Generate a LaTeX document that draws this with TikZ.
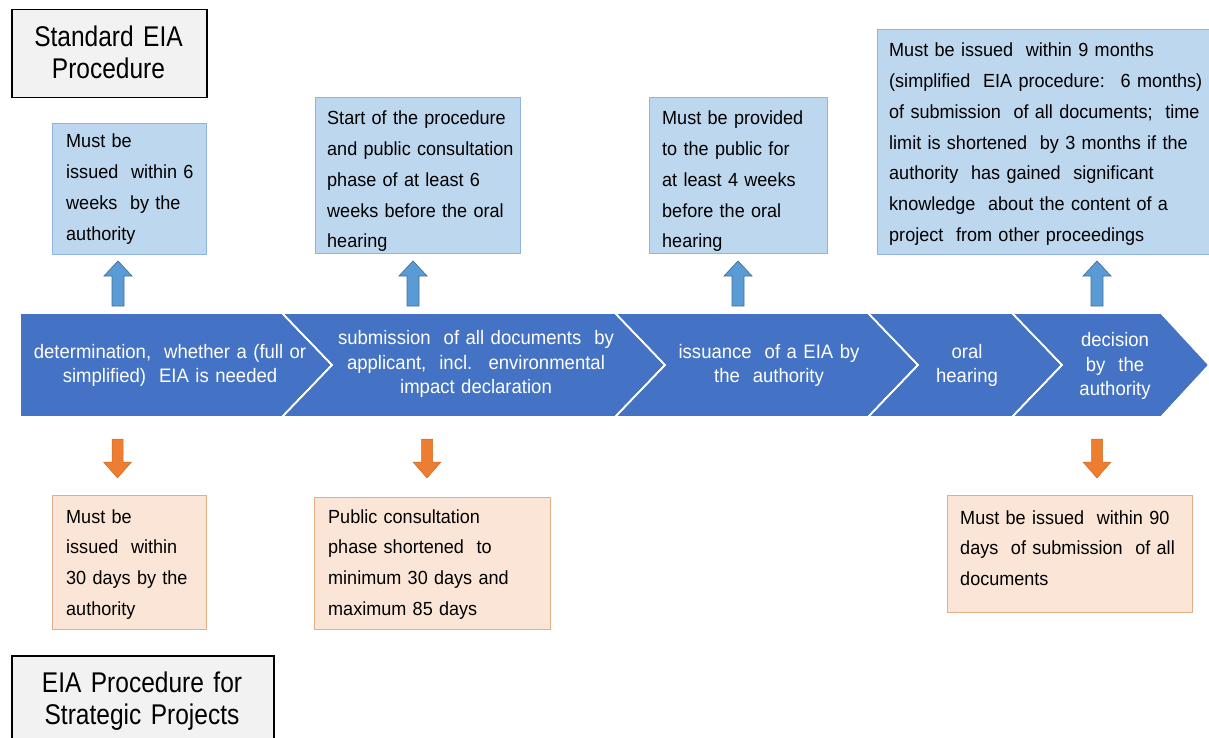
\documentclass[tikz,border=0pt]{standalone}
\usepackage{fontspec}
\setmainfont{Liberation Sans}
\newfontfamily\titlefont[FakeStretch=0.86]{Liberation Sans}
\newfontfamily\bodyfont[FakeStretch=0.95]{Liberation Sans}
\definecolor{bandblue}{HTML}{4472C4}
\definecolor{lblue}{HTML}{BDD7EE}
\definecolor{lbluedraw}{HTML}{8FB4DE}
\definecolor{lorange}{HTML}{FBE5D6}
\definecolor{lorangedraw}{HTML}{E3AE88}
\definecolor{arrblue}{HTML}{5B9BD5}
\definecolor{arrbluedraw}{HTML}{41719C}
\definecolor{arrorange}{HTML}{ED7D31}
\definecolor{arrorangedraw}{HTML}{D06A25}
\definecolor{titlegray}{HTML}{F2F2F2}
\newcommand\upArr[1]{\draw[uparrow] (#1-6,306) -- (#1-6,276) -- (#1-14,276) -- (#1,261) -- (#1+14,276) -- (#1+6,276) -- (#1+6,306) -- cycle;}
\newcommand\downArr[1]{\draw[downarrow] (#1-5.5,439) -- (#1-5.5,462) -- (#1-14,462) -- (#1,478) -- (#1+14,462) -- (#1+5.5,462) -- (#1+5.5,439) -- cycle;}
\begin{document}
\begin{tikzpicture}[x=1pt,y=-1pt,
  titlebox/.style={draw=black, line width=1.5pt, fill=titlegray, anchor=north west, inner sep=0pt},
  bluebox/.style={draw=lbluedraw, line width=0.8pt, fill=lblue, anchor=north west, inner sep=0pt},
  orangebox/.style={draw=lorangedraw, line width=0.8pt, fill=lorange, anchor=north west, inner sep=0pt},
  bodytext/.style={anchor=base west, align=left, text width=330pt, inner sep=0pt, font=\bodyfont\fontsize{19}{30.7}\selectfont},
  bandtext/.style={anchor=base, align=center, text width=300pt, inner sep=0pt, text=white, font=\bodyfont\fontsize{19.5}{24.5}\selectfont},
  titletext/.style={anchor=base, align=center, text width=260pt, inner sep=0pt, font=\titlefont\fontsize{28.5}{32.3}\selectfont},
  chev/.style={fill=bandblue, draw=white, line width=1.6pt, line join=miter},
  uparrow/.style={fill=arrblue, draw=arrbluedraw, line width=0.7pt},
  downarrow/.style={fill=arrorange, draw=arrorangedraw, line width=0.5pt},
]
\useasboundingbox (0,0) rectangle (1209,738);
\fill[white] (0,0) rectangle (1209,738);
\clip (0,0) rectangle (1209,738);

% title boxes
\node[titlebox, minimum width=195, minimum height=88] (t1) at (11,9) {};
\node[titletext] (t1t) at (108.5,46.7) {Standard EIA\\Procedure};
\node[titlebox, minimum width=262, minimum height=100] (t2) at (11,655) {};
\node[titletext] (t2t) at (142,692.5) {EIA Procedure for\\Strategic Projects};

% band
\fill[chev] (20,313) -- (282,313) -- (332,365) -- (282,417) -- (20,417) -- cycle;
\fill[chev] (282,313) -- (615,313) -- (665,365) -- (615,417) -- (282,417) -- (332,365) -- cycle;
\fill[chev] (615,313) -- (868,313) -- (918,365) -- (868,417) -- (615,417) -- (665,365) -- cycle;
\fill[chev] (868,313) -- (1012,313) -- (1062,365) -- (1012,417) -- (868,417) -- (918,365) -- cycle;
\fill[chev] (1012,313) -- (1161,313) -- (1209,365) -- (1161,417) -- (1012,417) -- (1062,365) -- cycle;
\draw[chev, fill=none] (282,313) -- (332,365) -- (282,417);
\draw[chev, fill=none] (615,313) -- (665,365) -- (615,417);
\draw[chev, fill=none] (868,313) -- (918,365) -- (868,417);
\draw[chev, fill=none] (1012,313) -- (1062,365) -- (1012,417);

\node[bandtext] (s1) at (170,358) {determination, \ whether a (full or\\simplified) \ EIA is needed};
\node[bandtext] (s2) at (476,344.5) {submission \ of all documents \ by\\applicant, \ incl. \ environmental\\impact declaration};
\node[bandtext] (s3) at (769,358) {issuance \ of a EIA by\\the \ authority};
\node[bandtext] (s4) at (967,358) {oral\\hearing};
\node[bandtext] (s5) at (1115,346.5) {decision\\by \ the\\authority};

% blue boxes
\node[bluebox, minimum width=154, minimum height=131] (b1) at (52,123) {};
\node[bodytext] (b1t) at (66,148) {Must be\\issued \ within 6\\weeks \ by the\\authority};
\node[bluebox, minimum width=205, minimum height=156] (b2) at (315,97) {};
\node[bodytext] (b2t) at (327,125) {Start of the procedure\\and public consultation\\phase of at least 6\\weeks before the oral\\hearing};
\node[bluebox, minimum width=178, minimum height=156] (b3) at (649,97) {};
\node[bodytext] (b3t) at (662,125) {Must be provided\\to the public for\\at least 4 weeks\\before the oral\\hearing};
\node[bluebox, minimum width=345, minimum height=225] (b4) at (877,29) {};
\node[bodytext] (b4t) at (889,57) {Must be issued \ within 9 months\\(simplified \ EIA procedure: \ 6 months)\\of submission \ of all documents; \ time\\limit is shortened \ by 3 months if the\\authority \ has gained \ significant\\knowledge \ about the content of a\\project \ from other proceedings};

% orange boxes
\node[orangebox, minimum width=154, minimum height=134] (o1) at (52,495) {};
\node[bodytext] (o1t) at (66,523) {Must be\\issued \ within\\30 days by the\\authority};
\node[orangebox, minimum width=236, minimum height=132] (o2) at (314,497) {};
\node[bodytext] (o2t) at (328,523) {Public consultation\\phase shortened \ to\\minimum 30 days and\\maximum 85 days};
\node[orangebox, minimum width=245, minimum height=117] (o3) at (947,495) {};
\node[bodytext] (o3t) at (960,524) {Must be issued \ within 90\\days \ of submission \ of all\\documents};

% block arrows
\upArr{118}
\upArr{413}
\upArr{738}
\upArr{1097}
\downArr{117.5}
\downArr{427}
\downArr{1097}
\end{tikzpicture}
\end{document}
